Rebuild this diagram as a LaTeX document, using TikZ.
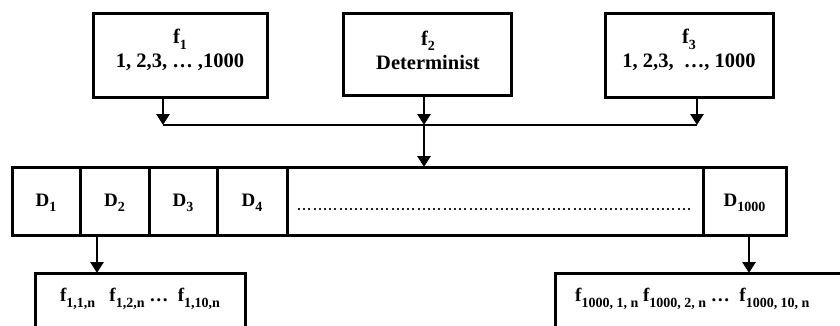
\documentclass[tikz,border=0pt]{standalone}
\usepackage{fontspec}
\setmainfont{Liberation Serif}
\usetikzlibrary{arrows.meta,calc}
% lowered index set in a fixed size
\newcommand\idx[1]{\raisebox{-0.28em}{\fontsize{14}{14}\selectfont #1}}
\begin{document}
\begin{tikzpicture}[x=1pt,y=-1pt,
  frame/.style={draw,line width=3pt,inner sep=0pt,outer sep=0pt,minimum width=#1},
  cell/.style={frame=#1,minimum height=68pt},
  lbl/.style={inner sep=0pt,align=center,font=\fontsize{19}{24}\selectfont\bfseries},
  big/.style={lbl,font=\fontsize{20.5}{24}\selectfont\bfseries},
  link/.style={line width=2.8pt},
  tip/.style={link,-{Triangle[width=13pt,length=11pt]}}]
\useasboundingbox (0,0) rectangle (840,325);
\clip (0,0) rectangle (840,325);

% source boxes
\node[frame=174pt,minimum height=84pt] (f1) at (180,55) {};
\node[frame=168pt,minimum height=82pt] (f2) at (427,54) {};
\node[frame=168pt,minimum height=84pt] (f3) at (689,55) {};
\node[big] (t1) at (180,50) {f\idx{1}\\1, 2,3, … ,1000};
\node[big] (t2) at (428,50) {f\idx{2}\\Determinist};
\node[big] (t3) at (689,50) {f\idx{3}\\1, 2,3,\ \ …, 1000};

% row of data sets
\node[cell=68pt] (d1) at (46,201) {};
\node[cell=69pt] (d2) at (114.5,201) {};
\node[cell=68pt] (d3) at (183,201) {};
\node[cell=70pt] (d4) at (252,201) {};
\node[cell=416pt] (dd) at (495,201) {};
\node[cell=83pt] (dn) at (744.5,201) {};
\node[lbl] (l1) at (46,203) {D\idx{1}};
\node[lbl] (l2) at (114.5,203) {D\idx{2}};
\node[lbl] (l3) at (183,203) {D\idx{3}};
\node[lbl] (l4) at (252,203) {D\idx{4}};
\node[lbl] (ln) at (744.5,203) {D\idx{1000}};
\draw[line width=2pt,dash pattern=on 2pt off 3.2pt,black!85]
  ($(dd.west)+(11,8)$) -- ($(dd.east)+(-10,8)$);

% result boxes
\node[frame=210pt,minimum height=90pt,anchor=north west] (r1) at (35,273) {};
\node[frame=320pt,minimum height=90pt,anchor=north west] (r2) at (555,273) {};
\node[lbl] (s1) at (140,299) {f\idx{1,1,n}\ \ \ f\idx{1,2,n} …\ \ f\idx{1,10,n}};
\node[lbl,anchor=west] (s2) at (575,299) {f\idx{1000, 1, n}\ f\idx{1000, 2, n} …\ \ f\idx{1000, 10, n}};

% junctions
\coordinate (j1) at (163,125);
\coordinate (jm) at (424,125);
\coordinate (j3) at (697,125);
\coordinate (b1) at (97,235);
\coordinate (bn) at (749,235);

% connectors
\draw[tip] (j1 |- f1.south) -- (j1);
\draw[tip] (jm |- f2.south) -- (jm);
\draw[tip] (j3 |- f3.south) -- (j3);
\draw[link] (j1) -- (j3);
\draw[tip] (jm) -- (jm |- dd.north);
\draw[tip] (b1) -- (b1 |- r1.north);
\draw[tip] (bn) -- (bn |- r2.north);
\end{tikzpicture}
\end{document}
